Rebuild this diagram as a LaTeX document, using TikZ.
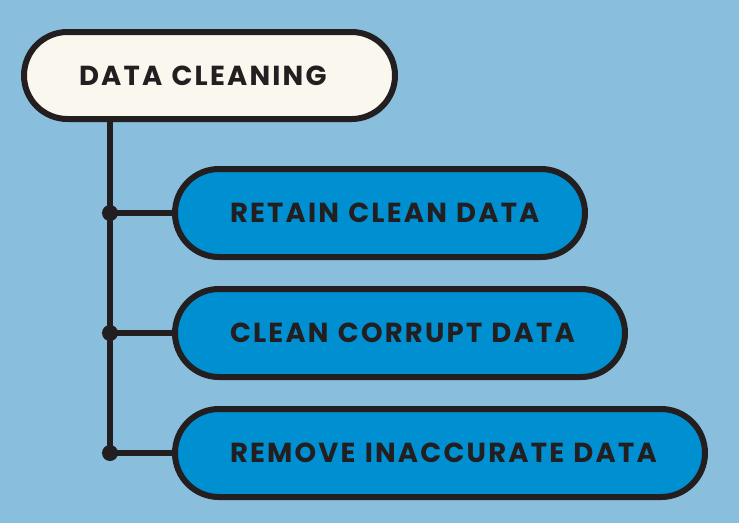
\documentclass[tikz,border=0pt]{standalone}
\usepackage{fontspec}
\newfontfamily\pillfont{Poppins}[LetterSpace=8]
\definecolor{sky}{HTML}{89BFDC}
\definecolor{pillblue}{HTML}{008FD0}
\definecolor{cream}{HTML}{FAF7EF}
\definecolor{edge}{HTML}{231F20}
\tikzset{
  pill/.style={draw=edge, line width=6pt, rounded corners=44pt,
    minimum height=88pt, inner sep=0pt,
    text width=#1, align=left, text=edge,
    execute at begin node=\hspace*{55pt},
    font=\pillfont\bfseries\fontsize{27.5}{32}\selectfont},
  stem/.style={edge, line width=5.5pt},
}
\begin{document}
\begin{tikzpicture}[x=1pt,y=-1pt]

  \fill[sky] (0,0) rectangle (739,523);
  \useasboundingbox (0,0) rectangle (739,523);

  % main heading
  \node[pill=371pt, fill=cream, minimum height=87pt, rounded corners=43.5pt] (clean) at (209.5,75.5) {DATA CLEANING};

  % the three steps
  \node[pill=410pt, fill=pillblue] (retain) at (380,213) {RETAIN CLEAN DATA};
  \node[pill=450pt, fill=pillblue] (corrupt) at (400,333) {CLEAN CORRUPT DATA};
  \node[pill=530pt, fill=pillblue] (remove) at (440,453) {REMOVE INACCURATE DATA};

  \coordinate (top) at (110,122);
  \coordinate (j1) at (110,213);
  \coordinate (j2) at (110,333);
  \coordinate (j3) at (110,453);

  \draw[stem] (top) -- (j3);
  \draw[stem] (j1) -- (retain.west);
  \draw[stem] (j2) -- (corrupt.west);
  \draw[stem] (j3) -- (remove.west);
  \foreach \j in {j1,j2,j3}
    \fill[edge] (\j) circle (8pt);

\end{tikzpicture}
\end{document}
